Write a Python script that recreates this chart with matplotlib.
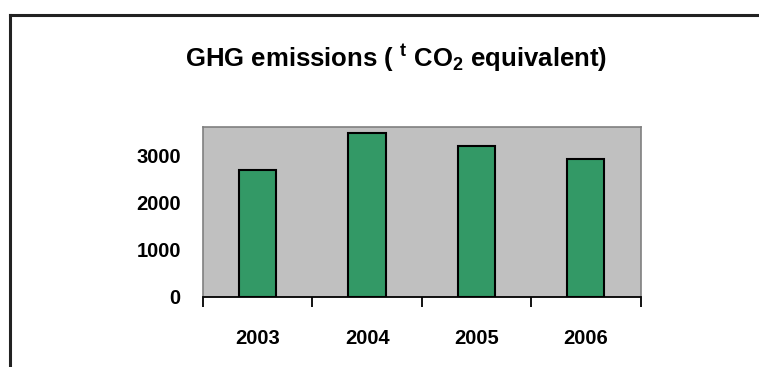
import matplotlib
matplotlib.use("Agg")
import matplotlib.pyplot as plt
from matplotlib.lines import Line2D

plt.rcParams['font.family'] = ['Liberation Sans', 'DejaVu Sans']
plt.rcParams['font.weight'] = 'bold'
plt.rcParams['mathtext.fontset'] = 'custom'
plt.rcParams['mathtext.rm'] = 'Liberation Sans:bold'
plt.rcParams['mathtext.it'] = 'Liberation Sans:bold'
plt.rcParams['mathtext.bf'] = 'Liberation Sans:bold'

# data
years = ['2003', '2004', '2005', '2006']
emissions = [2700, 3480, 3205, 2930]
yticks = [0, 1000, 2000, 3000]

fig = plt.figure(figsize=(7.59, 3.67), dpi=100)
fig.patch.set_facecolor('white')

# outer chart frame (only top and left edges are in view)
fig.add_artist(Line2D([10 / 759, 1.0], [1 - 15 / 367, 1 - 15 / 367],
                      color='#222222', lw=2.2, transform=fig.transFigure))
fig.add_artist(Line2D([10 / 759, 10 / 759], [0.0, 1 - 15 / 367],
                      color='#222222', lw=2.2, transform=fig.transFigure))

ax = fig.add_axes([203 / 759, 1 - 296.7 / 367, 437.5 / 759, 169.7 / 367])
ax.set_facecolor('#C0C0C0')

x = list(range(len(years)))
ax.bar(x, emissions, width=0.34, color='#339966', edgecolor='black', linewidth=1.5)

ax.set_xlim(-0.5, len(years) - 0.5)
ax.set_ylim(0, 3610)

ax.set_yticks(yticks)
ax.set_yticklabels([str(v) for v in yticks], fontsize=14.5, fontweight='bold')
ax.tick_params(axis='y', length=0, pad=16)

ax.set_xticks(x)
ax.set_xticklabels(years, fontsize=14.5, fontweight='bold')
ax.tick_params(axis='x', which='major', length=0, pad=23)
ax.set_xticks([i - 0.5 for i in range(len(years) + 1)], minor=True)
ax.tick_params(axis='x', which='minor', length=7, width=1.3, color='black', direction='out')

for side in ['top', 'right', 'left']:
    ax.spines[side].set_color('#808080')
    ax.spines[side].set_linewidth(1.2)
ax.spines['bottom'].set_color('black')
ax.spines['bottom'].set_linewidth(1.3)

fig.text(396 / 759, 1 - 58 / 367,
         r'GHG emissions ( $^{\mathrm{t}}$ CO$_{\mathrm{2}}$ equivalent)',
         ha='center', va='center', fontsize=18.5, fontweight='bold')

fig.savefig('out.png', dpi=100)
